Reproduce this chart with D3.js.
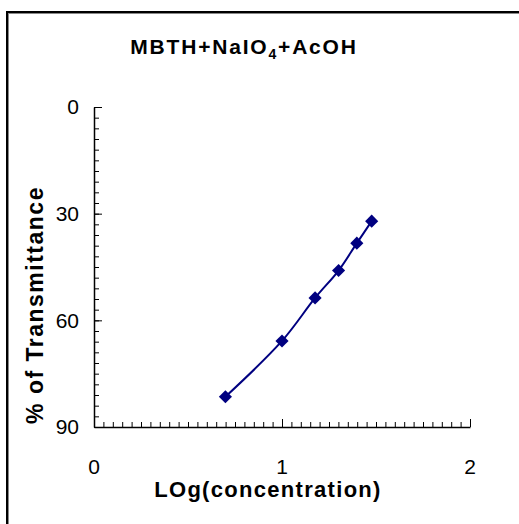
<!DOCTYPE html>
<html lang="en">
<head>
    <meta charset="UTF-8">
    <title>MBTH+NaIO4+AcOH</title>
    <script src="https://cdnjs.cloudflare.com/ajax/libs/d3/7.8.5/d3.min.js"></script>
    <style>
        body { margin: 0; background: #fff; font-family: Arial, "Liberation Sans", sans-serif; }
    </style>
</head>
<body>
    <div id="chart"></div>

    <script>
        // data
        var logConc = [0.699, 1.0, 1.176, 1.301, 1.398, 1.477];
        var transmittance = [81.5, 65.8, 53.7, 46.0, 38.3, 32.1];
        var xTicks = [0, 1, 2];
        var yTicks = [0, 30, 60, 90];

        var W = 519, H = 524;
        var margin = {left: 94, right: 49, top: 107, bottom: 97};
        var width = W - margin.left - margin.right,
            height = H - margin.top - margin.bottom;

        var svg = d3.select("#chart").append("svg")
            .attr("width", W)
            .attr("height", H);

        // frame (top and left only visible)
        svg.append("line").attr("x1", 6).attr("x2", W).attr("y1", 12).attr("y2", 12)
            .attr("stroke", "#000").attr("stroke-width", 2);
        svg.append("line").attr("x1", 7).attr("x2", 7).attr("y1", 11).attr("y2", H)
            .attr("stroke", "#000").attr("stroke-width", 2);
        svg.append("line").attr("x1", 8).attr("x2", W).attr("y1", 13.5).attr("y2", 13.5)
            .attr("stroke", "#888").attr("stroke-width", 1);
        svg.append("line").attr("x1", 8.5).attr("x2", 8.5).attr("y1", 13).attr("y2", H)
            .attr("stroke", "#888").attr("stroke-width", 1);

        var g = svg.append("g")
            .attr("transform", "translate(" + margin.left + "," + margin.top + ")");

        var x = d3.scaleLinear().domain([0, 2]).range([0, width]);
        var y = d3.scaleLinear().domain([0, 90]).range([0, height]);

        // minor ticks
        g.append("g")
            .attr("transform", "translate(0," + height + ")")
            .call(d3.axisTop(x).tickValues(d3.range(0, 2.0001, 0.05)).tickSize(5).tickFormat(""))
            .call(function(s) { s.select(".domain").remove(); })
            .selectAll("line").attr("stroke", "#000");
        g.append("g")
            .call(d3.axisRight(y).tickValues(d3.range(0, 90.001, 3)).tickSize(5).tickFormat(""))
            .call(function(s) { s.select(".domain").remove(); })
            .selectAll("line").attr("stroke", "#000");

        // major axes
        var xAxis = g.append("g")
            .attr("transform", "translate(0," + height + ")")
            .call(d3.axisTop(x).tickValues(xTicks).tickSize(8).tickSizeOuter(0).tickFormat(""));
        xAxis.select(".domain").attr("stroke", "#000").attr("stroke-width", 1.5);
        xAxis.selectAll("line").attr("stroke", "#000");

        var yAxis = g.append("g")
            .call(d3.axisRight(y).tickValues(yTicks).tickSize(8).tickSizeOuter(0).tickFormat(""));
        yAxis.select(".domain").attr("stroke", "#000").attr("stroke-width", 1.5);
        yAxis.selectAll("line").attr("stroke", "#000");

        // tick labels
        g.selectAll(".xlab").data(xTicks).enter().append("text")
            .attr("x", function(d) { return x(d); })
            .attr("y", height + 47)
            .attr("text-anchor", "middle")
            .style("font-size", "21px")
            .text(function(d) { return d; });

        g.selectAll(".ylab").data(yTicks).enter().append("text")
            .attr("x", -15)
            .attr("y", function(d) { return y(d); })
            .attr("dy", "0.35em")
            .attr("text-anchor", "end")
            .style("font-size", "21px")
            .text(function(d) { return d; });

        // series
        var pts = logConc.map(function(v, i) { return {x: v, y: transmittance[i]}; });

        var line = d3.line()
            .x(function(d) { return x(d.x); })
            .y(function(d) { return y(d.y); })
            .curve(d3.curveCatmullRom.alpha(0.5));

        g.append("path")
            .datum(pts)
            .attr("fill", "none")
            .attr("stroke", "#000080")
            .attr("stroke-width", 2)
            .attr("d", line);

        g.selectAll(".pt").data(pts).enter().append("path")
            .attr("transform", function(d) { return "translate(" + x(d.x) + "," + y(d.y) + ")"; })
            .attr("d", d3.symbol().type(d3.symbolDiamond2).size(110))
            .attr("fill", "#000080");

        // titles
        svg.append("text")
            .attr("x", 244)
            .attr("y", 54)
            .attr("text-anchor", "middle")
            .style("font-size", "21px")
            .style("font-weight", "bold")
            .style("letter-spacing", "1.8px")
            .html('MBTH+NaIO<tspan dy="5" font-size="14px">4</tspan><tspan dy="-5">+AcOH</tspan>');

        svg.append("text")
            .attr("x", 268)
            .attr("y", 497)
            .attr("text-anchor", "middle")
            .style("font-size", "22px")
            .style("font-weight", "bold")
            .style("letter-spacing", "1.3px")
            .text("LOg(concentration)");

        svg.append("text")
            .attr("transform", "translate(43,305) rotate(-90)")
            .attr("text-anchor", "middle")
            .style("font-size", "23px")
            .style("font-weight", "bold")
            .style("letter-spacing", "1.5px")
            .text("% of Transmittance");
    </script>
</body>
</html>
